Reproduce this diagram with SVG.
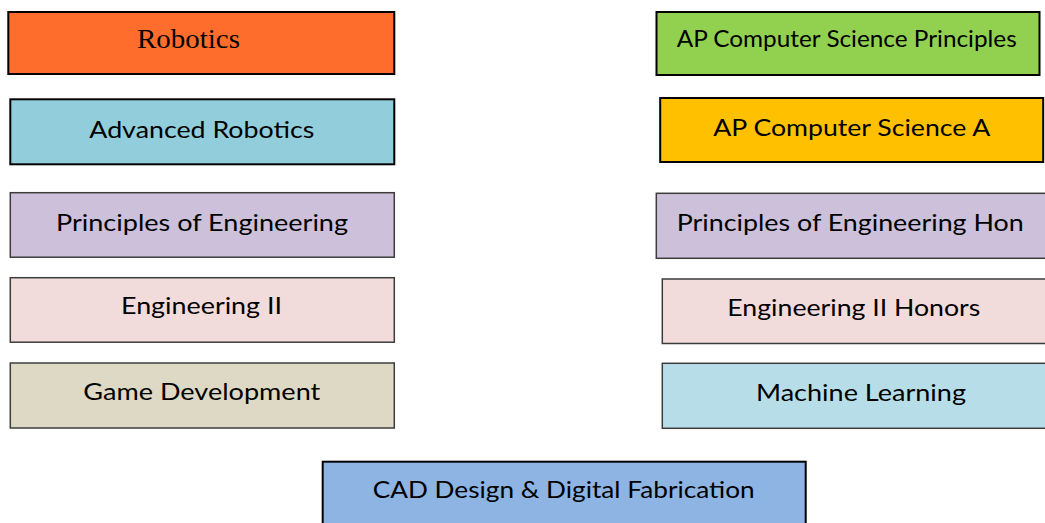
<svg xmlns="http://www.w3.org/2000/svg" width="1045" height="523" viewBox="0 0 1045 523">
<style>
.b{stroke:#000;stroke-width:2}
.t{stroke:#3c3c3c;stroke-width:1.5}
.l{font-family:Lato,"Open Sans","Liberation Sans",sans-serif;font-size:23px;fill:#000}
.s{font-family:"Liberation Serif","Times New Roman",serif;font-size:28px;fill:#000}
</style>
<rect width="1045" height="523" fill="#fff"/>
<g id="connectors"></g>
<g id="robotics"><rect class="b" x="8.3" y="12" width="386" height="62" fill="#FF6D2D"/><text class="s" x="137" y="48.3" textLength="103" lengthAdjust="spacingAndGlyphs">Robotics</text></g>
<g id="advanced-robotics"><rect class="b" x="10.3" y="99.3" width="384" height="65" fill="#92CDDC"/><text class="l" x="89.3" y="137.7" textLength="225" lengthAdjust="spacingAndGlyphs">Advanced Robotics</text></g>
<g id="poe"><rect class="t" x="10.3" y="192.7" width="384" height="64.5" fill="#CCC0DA"/><text class="l" x="56" y="230.7" textLength="292" lengthAdjust="spacingAndGlyphs">Principles of Engineering</text></g>
<g id="eng2"><rect class="t" x="10.3" y="277.7" width="384" height="64.5" fill="#F2DCDB"/><text class="l" x="121" y="313.7" textLength="161" lengthAdjust="spacingAndGlyphs">Engineering II</text></g>
<g id="gamedev"><rect class="t" x="10.3" y="363" width="384" height="65" fill="#DDD9C4"/><text class="l" x="83.3" y="400" textLength="237" lengthAdjust="spacingAndGlyphs">Game Development</text></g>
<g id="apcsp"><rect class="b" x="656.5" y="12" width="383" height="63" fill="#92D050"/><text class="l" x="676.7" y="46.7" textLength="340" lengthAdjust="spacingAndGlyphs">AP Computer Science Principles</text></g>
<g id="apcsa"><rect class="b" x="660.2" y="98" width="383" height="64" fill="#FFC000"/><text class="l" x="713.3" y="136" textLength="277" lengthAdjust="spacingAndGlyphs">AP Computer Science A</text></g>
<g id="poe-hon"><rect class="t" x="656.3" y="193.3" width="400" height="65" fill="#CCC0DA"/><text class="l" x="676.7" y="231" textLength="347" lengthAdjust="spacingAndGlyphs">Principles of Engineering Hon</text></g>
<g id="eng2-hon"><rect class="t" x="662.3" y="279" width="400" height="64.5" fill="#F2DCDB"/><text class="l" x="727.3" y="316" textLength="253" lengthAdjust="spacingAndGlyphs">Engineering II Honors</text></g>
<g id="ml"><rect class="t" x="662.3" y="363.3" width="400" height="65" fill="#B7DEE8"/><text class="l" x="756" y="400.7" textLength="210" lengthAdjust="spacingAndGlyphs">Machine Learning</text></g>
<g id="cad"><rect class="b" x="322.7" y="461.7" width="483" height="80" fill="#8DB4E2"/><text class="l" x="372.7" y="497.7" textLength="382" lengthAdjust="spacingAndGlyphs">CAD Design &amp; Digital Fabrication</text></g>
</svg>
